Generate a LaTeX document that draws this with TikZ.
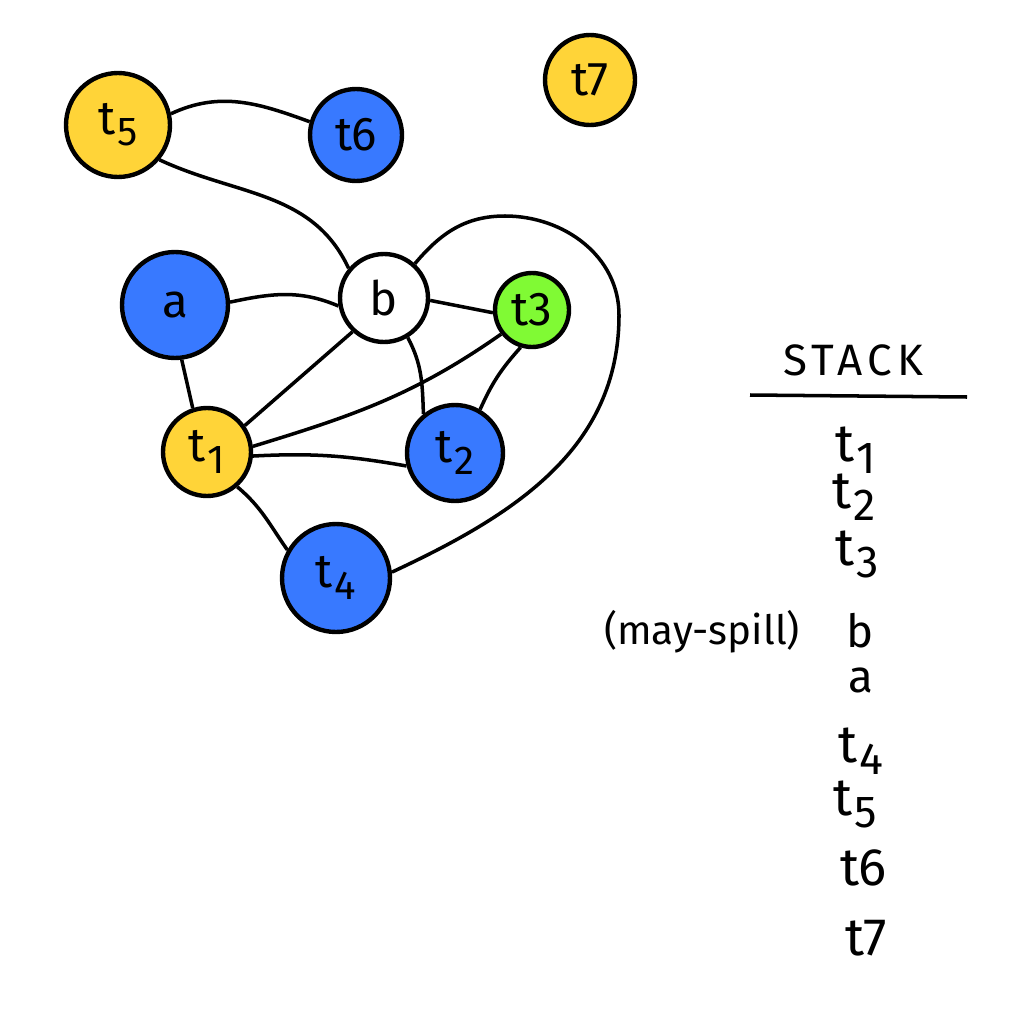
\documentclass[tikz,border=0pt]{standalone}
\usepackage{fontspec}
\setmainfont{Fira Sans}
\usepackage{tikz}

\definecolor{regblue}{RGB}{56,121,255}
\definecolor{regyellow}{RGB}{255,212,56}
\definecolor{reggreen}{RGB}{128,250,52}

\newcommand{\tv}[1]{t\kern0.04em\raisebox{-0.45ex}{\scalebox{0.85}{#1}}}

\tikzset{
  vtx/.style={circle,draw,line width=2.5pt,inner sep=0pt,font=\fontsize{27}{30}\selectfont},
  conn/.style={line width=2pt},
  stk/.style={anchor=base west,inner sep=0pt,font=\fontsize{30}{34}\selectfont},
}

\begin{document}
\begin{tikzpicture}[x=0.02cm,y=0.02cm]
			\useasboundingbox (0,0) rectangle (1024,-1024);
			% interference graph
			\node[vtx,fill=regyellow,minimum size=2.08cm] (t5) at (118,-125) {\tv{5}};
			\node[vtx,fill=regblue,minimum size=1.84cm] (t6) at (356,-135) {t6};
			\node[vtx,fill=regyellow,minimum size=1.8cm] (t7) at (590,-80) {t7};
			\node[vtx,fill=regblue,minimum size=2.12cm] (a) at (175,-305) {a};
			\node[vtx,fill=white,minimum size=1.76cm] (b) at (384,-298) {b};
			\node[vtx,fill=reggreen,minimum size=1.48cm] (t3) at (532,-310) {t3};
			\node[vtx,fill=regyellow,minimum size=1.76cm] (t1) at (207,-452) {\tv{1}};
			\node[vtx,fill=regblue,minimum size=1.92cm] (t2) at (455,-453) {\tv{2}};
			\node[vtx,fill=regblue,minimum size=2.16cm] (t4) at (336,-578) {\tv{4}};
			\coordinate (loopT) at (505,-216);
			\coordinate (loopR) at (619,-315);
			\draw[conn] (t5.12) to[out=25,in=160] (t6.164);
			\draw[conn] (b.140) to[out=115,in=-25] (t5.-40);
			\draw[conn] (a.3) to[out=12,in=157] (b.190);
			\draw[conn] (a.-83) -- (t1.108);
			\draw[conn] (b.-3) -- (t3.184);
			\draw[conn] (b.227) -- (t1.35);
			\draw[conn] (b.-59) to[out=-62,in=92] (t2.129);
			\draw[conn] (t3.218) to[out=215,in=17] (t1.7);
			\draw[conn] (t3.253) to[out=228,in=66] (t2.60);
			\draw[conn] (t1.-5) to[out=3,in=170] (t2.195);
			\draw[conn] (t1.-49) to[out=-40,in=125] (t4.150);
			\draw[conn] (b.48) to[out=50,in=180] (loopT) to[out=0,in=90] (loopR) to[out=-90,in=25] (t4.6);
			% stack
			\node[font=\fontsize{25}{28}\selectfont\addfontfeature{LetterSpace=12}] (stack) at (853,-360) {STACK};
			\coordinate (ruleL) at (750,-395);
			\coordinate (ruleR) at (967,-397);
			\draw[conn] (ruleL) -- (ruleR);
			\node[stk] (s1) at (835,-461) {\tv{1}};
			\node[stk] (s2) at (832,-508) {\tv{2}};
			\node[stk] (s3) at (835,-565) {\tv{3}};
			\node[stk,font=\fontsize{26}{30}\selectfont] (s4) at (846,-647) {b};
			\node[stk,font=\fontsize{26}{30}\selectfont] (s5) at (848,-692) {a};
			\node[stk] (s6) at (838,-762) {\tv{4}};
			\node[stk] (s7) at (833,-815) {\tv{5}};
			\node[stk] (s8) at (840,-885) {t6};
			\node[stk] (s9) at (845,-955) {t7};
			\node[font=\fontsize{23}{26}\selectfont] (spill) at (702,-632) {(may-spill)};
		\end{tikzpicture}
\end{document}
